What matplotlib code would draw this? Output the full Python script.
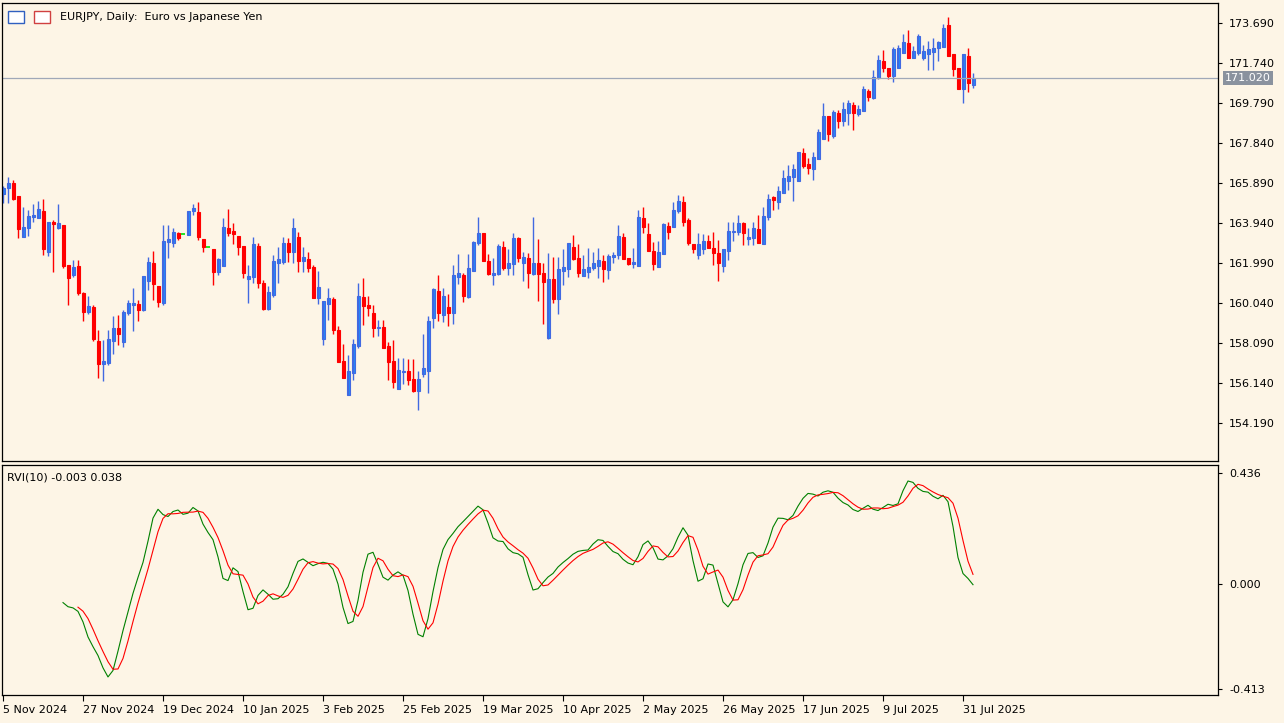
import numpy as np
import matplotlib.pyplot as plt

# EURJPY daily, 5 Nov 2024 .. 4 Aug 2025
opens = [165.35, 165.64, 165.89, 165.26, 163.25, 163.69, 164.23, 164.18, 164.52, 162.52,
         163.98, 163.69, 163.84, 161.89, 161.40, 161.84, 160.52, 159.60, 159.84, 158.18,
         157.06, 157.11, 158.18, 158.82, 158.13, 159.55, 159.94, 159.99, 159.70, 161.11,
         161.99, 160.86, 160.04, 163.01, 162.96, 163.45, 163.40, 163.35, 164.52, 164.47,
         163.16, 162.77, 162.67, 161.55, 161.84, 163.69, 163.55, 163.30, 162.82, 161.21,
         161.30, 162.82, 161.01, 159.74, 160.43, 161.99, 162.04, 162.96, 162.52, 163.25,
         162.08, 162.18, 161.79, 160.28, 158.28, 159.99, 160.23, 158.72, 157.21, 155.55,
         156.62, 157.94, 160.33, 159.94, 159.55, 158.82, 158.86, 157.94, 157.21, 155.84,
         156.67, 156.72, 156.33, 155.74, 156.57, 156.72, 159.31, 160.62, 159.45, 159.84,
         159.55, 161.30, 161.40, 160.33, 161.60, 162.96, 163.45, 162.08, 161.40, 161.45,
         162.77, 161.74, 161.94, 163.21, 161.99, 162.23, 161.45, 161.99, 161.50, 158.33,
         161.21, 160.23, 161.60, 161.69, 162.77, 162.23, 161.35, 161.55, 161.74, 161.84,
         162.08, 161.65, 162.28, 162.38, 163.25, 162.23, 161.94, 161.84, 164.18, 163.40,
         162.57, 161.79, 162.43, 163.79, 163.74, 164.52, 164.96, 164.08, 162.91, 162.38,
         162.67, 163.06, 162.72, 162.47, 161.84, 162.57, 163.50, 163.50, 163.94, 163.16,
         163.21, 163.65, 162.91, 164.23, 165.21, 164.96, 165.40, 165.99, 166.18, 165.99,
         167.35, 166.81, 166.57, 167.06, 168.03, 169.15, 168.18, 169.30, 168.91, 169.30,
         169.69, 169.25, 169.40, 170.37, 170.03, 171.01, 171.84, 171.50, 171.11, 171.50,
         172.23, 172.71, 171.99, 172.23, 171.99, 172.18, 172.28, 172.47, 172.52, 173.59,
         172.18, 171.50, 170.47, 172.08, 170.69]
highs = [165.74, 166.18, 166.03, 165.26, 164.72, 164.57, 164.86, 165.01, 165.11, 163.98,
         164.08, 164.86, 163.84, 161.89, 162.13, 162.13, 160.57, 160.38, 159.94, 158.72,
         158.23, 158.72, 159.40, 159.45, 159.70, 160.18, 160.77, 160.18, 161.35, 162.28,
         162.57, 160.86, 163.84, 163.84, 163.69, 163.50, 163.40, 164.52, 164.86, 164.96,
         163.16, 162.77, 162.67, 162.23, 164.18, 164.62, 163.94, 163.30, 162.82, 161.89,
         163.25, 162.96, 161.16, 160.86, 162.38, 162.77, 163.25, 163.21, 164.18, 163.50,
         162.77, 162.52, 161.89, 161.60, 160.13, 160.77, 160.33, 158.91, 158.04, 157.50,
         158.28, 161.01, 161.26, 160.38, 159.94, 159.21, 159.21, 158.13, 158.23, 157.35,
         157.35, 157.30, 157.30, 156.72, 158.52, 159.40, 160.77, 161.40, 160.77, 160.47,
         161.89, 162.43, 161.50, 162.43, 163.06, 164.23, 163.45, 162.43, 162.23, 162.91,
         163.06, 162.67, 163.45, 163.25, 162.52, 162.47, 164.23, 163.16, 161.99, 162.47,
         162.28, 162.28, 162.67, 162.96, 163.35, 162.91, 162.38, 162.72, 162.52, 162.72,
         162.38, 162.43, 162.52, 163.84, 163.45, 162.23, 162.72, 164.57, 164.72, 163.94,
         163.01, 163.06, 163.94, 163.98, 164.96, 165.30, 165.26, 164.18, 162.91, 163.45,
         163.40, 163.35, 163.50, 163.11, 162.67, 163.98, 163.98, 164.33, 163.98, 163.69,
         163.98, 164.33, 164.72, 165.35, 165.26, 165.74, 166.52, 166.77, 166.81, 167.40,
         167.60, 167.11, 167.40, 168.52, 169.79, 169.15, 169.45, 169.45, 169.84, 169.93,
         169.84, 169.69, 170.62, 170.47, 171.40, 172.13, 172.37, 171.50, 172.52, 172.62,
         173.15, 173.35, 172.57, 173.15, 172.62, 172.81, 172.96, 172.81, 173.64, 173.98,
         172.18, 171.50, 172.18, 172.47, 171.25]
lows = [164.91, 164.91, 165.06, 163.21, 163.25, 163.30, 163.98, 164.18, 162.38, 162.33,
        161.55, 163.64, 161.74, 159.94, 161.30, 160.43, 159.16, 159.50, 158.18, 156.38,
        156.23, 157.01, 157.55, 157.99, 157.89, 159.45, 158.67, 159.16, 159.65, 160.67,
        160.18, 159.84, 159.94, 162.23, 162.77, 163.11, 163.40, 163.35, 164.33, 163.11,
        162.52, 162.77, 160.91, 161.40, 161.84, 163.30, 162.91, 162.38, 161.26, 160.04,
        161.01, 160.77, 159.70, 159.70, 160.33, 161.01, 161.94, 162.04, 161.99, 161.55,
        161.55, 161.55, 160.28, 159.99, 157.99, 159.21, 158.52, 157.16, 156.38, 155.55,
        156.28, 157.84, 158.96, 159.40, 158.38, 158.43, 157.84, 156.28, 155.89, 155.84,
        156.08, 156.04, 155.70, 154.82, 156.42, 155.65, 158.82, 159.16, 159.11, 158.91,
        159.01, 160.96, 160.08, 160.28, 161.60, 162.86, 162.08, 161.40, 160.91, 161.40,
        161.65, 161.40, 161.40, 162.04, 161.11, 160.77, 161.40, 160.13, 159.01, 158.28,
        160.04, 159.50, 160.91, 161.30, 162.13, 161.30, 161.35, 161.26, 161.65, 161.26,
        161.06, 161.21, 161.99, 162.18, 162.18, 161.89, 161.74, 161.84, 163.45, 162.57,
        161.65, 161.79, 162.43, 163.16, 163.74, 164.42, 163.79, 162.86, 162.47, 162.18,
        162.43, 162.72, 161.89, 161.11, 161.55, 162.13, 163.06, 163.35, 162.86, 162.86,
        162.86, 162.96, 162.91, 164.08, 164.57, 164.62, 165.40, 165.55, 165.01, 165.99,
        166.62, 166.33, 166.03, 167.06, 168.03, 167.94, 168.08, 168.57, 168.67, 168.72,
        168.47, 169.15, 169.40, 169.89, 169.98, 170.96, 171.30, 170.96, 170.81, 171.50,
        172.23, 171.99, 171.99, 172.13, 171.89, 171.40, 171.40, 171.84, 172.52, 172.08,
        171.11, 170.47, 169.79, 170.33, 170.52]
closes = [165.64, 165.89, 165.11, 163.65, 163.74, 164.28, 164.33, 164.62, 162.67, 163.98,
          163.89, 163.94, 161.84, 161.26, 161.79, 160.52, 159.60, 159.89, 158.28, 157.06,
          157.21, 158.28, 158.82, 158.52, 159.60, 160.04, 160.04, 159.70, 161.35, 162.04,
          160.96, 160.08, 163.06, 163.16, 163.50, 163.21, 163.40, 164.52, 164.67, 163.25,
          162.77, 162.77, 161.55, 162.18, 163.74, 163.45, 163.40, 162.77, 161.50, 161.35,
          162.91, 161.01, 159.74, 160.57, 162.08, 162.18, 162.96, 162.52, 163.69, 162.08,
          162.28, 161.74, 160.28, 160.82, 160.13, 160.28, 158.72, 157.16, 156.38, 156.72,
          158.04, 160.38, 159.89, 159.79, 158.82, 158.86, 157.84, 157.16, 156.18, 156.77,
          156.72, 156.28, 155.74, 156.33, 156.86, 159.16, 160.72, 159.55, 160.38, 159.55,
          161.40, 161.50, 160.38, 161.74, 163.01, 163.45, 162.08, 161.45, 161.50, 162.82,
          161.74, 161.99, 163.21, 162.23, 162.28, 161.50, 161.99, 161.45, 161.06, 161.21,
          160.23, 161.69, 161.79, 162.96, 162.18, 161.50, 161.69, 161.79, 161.99, 162.13,
          161.69, 162.33, 162.38, 163.30, 162.18, 161.94, 162.04, 164.23, 163.74, 162.57,
          161.94, 162.52, 163.89, 163.50, 164.57, 165.01, 163.98, 162.96, 162.67, 162.91,
          163.06, 162.72, 162.47, 161.99, 162.67, 163.55, 163.55, 163.94, 163.45, 163.25,
          163.69, 162.96, 164.28, 165.11, 165.06, 165.50, 166.13, 166.23, 166.57, 167.40,
          166.72, 166.62, 167.16, 168.37, 169.15, 168.27, 169.35, 168.91, 169.50, 169.79,
          169.30, 169.50, 170.47, 170.08, 171.06, 171.89, 171.50, 171.11, 172.42, 172.47,
          172.76, 171.99, 172.33, 173.06, 172.33, 172.42, 172.47, 172.76, 173.45, 172.08,
          171.45, 170.47, 172.18, 170.77, 171.02]

date_labels = ["5 Nov 2024", "27 Nov 2024", "19 Dec 2024", "10 Jan 2025", "3 Feb 2025",
               "25 Feb 2025", "19 Mar 2025", "10 Apr 2025", "2 May 2025", "26 May 2025",
               "17 Jun 2025", "9 Jul 2025", "31 Jul 2025"]
price_ticks = [173.690, 171.740, 169.790, 167.840, 165.890, 163.940, 161.990,
               160.040, 158.090, 156.140, 154.190]
rvi_ticks = [0.436, 0.000, -0.413]
last_price = 171.020
rvi_period = 10

bg = "#fdf5e6"
bull_body = "#1e90ff"
bull_line = "#4169e1"
bear = "#ff0000"

o = np.array(opens)
h = np.array(highs)
l = np.array(lows)
c = np.array(closes)
n = len(c)
idx = np.arange(n)

# Relative Vigor Index as MetaTrader computes it
co = c - o
hl = h - l
num = np.full(n, np.nan)
den = np.full(n, np.nan)
for i in range(3, n):
    num[i] = (co[i] + 2 * co[i - 1] + 2 * co[i - 2] + co[i - 3]) / 6
    den[i] = (hl[i] + 2 * hl[i - 1] + 2 * hl[i - 2] + hl[i - 3]) / 6
rvi = np.full(n, np.nan)
for i in range(3 + rvi_period - 1, n):
    rvi[i] = num[i - rvi_period + 1:i + 1].sum() / den[i - rvi_period + 1:i + 1].sum()
sig = np.full(n, np.nan)
for i in range(3, n):
    sig[i] = (rvi[i] + 2 * rvi[i - 1] + 2 * rvi[i - 2] + rvi[i - 3]) / 6

fig = plt.figure(figsize=(12.84, 7.23), dpi=100, facecolor=bg)
W, H = 1284, 723
ax = fig.add_axes([2 / W, 1 - 461 / H, 1216 / W, 458 / H], facecolor=bg)
ax2 = fig.add_axes([2 / W, 1 - 695 / H, 1216 / W, 230 / H], facecolor=bg)

xlim = (-0.2, 1216 / 5 - 0.2)
for a in (ax, ax2):
    a.set_xlim(*xlim)
    for s in a.spines.values():
        s.set_color("black")
        s.set_linewidth(0.9)

# candles
for i in idx:
    if c[i] > o[i]:
        ax.vlines(i, l[i], h[i], color=bull_line, lw=1)
        ax.bar(i, c[i] - o[i], bottom=o[i], width=0.6, color=bull_body,
               edgecolor=bull_line, linewidth=0.8)
    elif c[i] < o[i]:
        ax.vlines(i, l[i], h[i], color=bear, lw=1)
        ax.bar(i, o[i] - c[i], bottom=c[i], width=0.6, color=bear,
               edgecolor=bear, linewidth=0.8)
    else:
        ax.vlines(i, l[i], h[i], color="#00c000", lw=1)
        ax.hlines(o[i], i - 0.4, i + 0.4, color="#00e000", lw=1.2)

ax.axhline(last_price, color="#a0a8b8", lw=0.9)
ax.set_ylim(173.69 - 438 / 20.51, 173.69 + 20 / 20.51)
ax.yaxis.tick_right()
ax.set_yticks(price_ticks)
ax.set_yticklabels([f"{v:.3f}" for v in price_ticks], fontsize=8)
ax.tick_params(axis="y", length=3, pad=5)
ax.set_xticks([])
ax.text(1.006, (last_price - ax.get_ylim()[0]) / (ax.get_ylim()[1] - ax.get_ylim()[0]),
        f"{last_price:.3f}", transform=ax.transAxes, fontsize=8, color="white",
        va="center", ha="left",
        bbox=dict(boxstyle="square,pad=0.2", fc="#8a929e", ec="none"))

fig.text(60 / W, 1 - 17 / H, "EURJPY, Daily:  Euro vs Japanese Yen", fontsize=8, va="center")
# small toolbar icons
for x0, col in ((8, "#3060c0"), (34, "#d04040")):
    fig.patches.append(plt.Rectangle((x0 / W, 1 - 23 / H), 16 / W, 12 / H,
                                     transform=fig.transFigure, fc="white", ec=col, lw=1))

# RVI panel
ax2.plot(idx, rvi, color="#008000", lw=0.8)
ax2.plot(idx, sig, color="#ff0000", lw=0.8)
ax2.set_ylim(-0.413 - 6 / 252, 0.436 + 8 / 252)
ax2.yaxis.tick_right()
ax2.set_yticks(rvi_ticks)
ax2.set_yticklabels([f"{v:.3f}" for v in rvi_ticks], fontsize=8)
ax2.tick_params(axis="y", length=3, pad=5)
ax2.text(5 / 1216, 1 - 12 / 230, f"RVI({rvi_period}) {rvi[-1]:.3f} {sig[-1]:.3f}",
         transform=ax2.transAxes, fontsize=8, va="center")

tick_pos = list(range(0, n, 16))
ax2.set_xticks(tick_pos)
ax2.set_xticklabels(date_labels[:len(tick_pos)], fontsize=8, ha="left")
ax2.tick_params(axis="x", length=4, pad=3)

fig.savefig("out.png", dpi=100, facecolor=bg)
